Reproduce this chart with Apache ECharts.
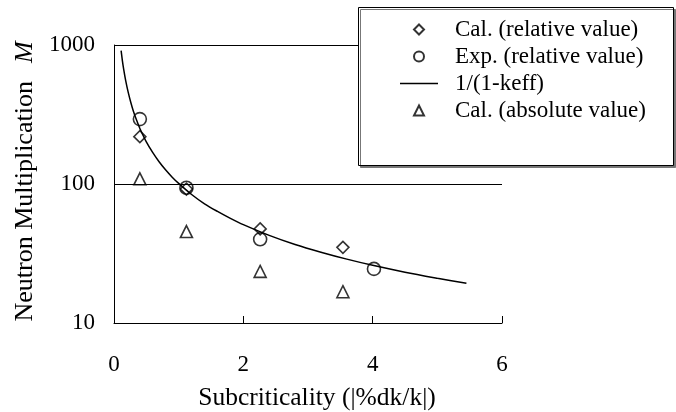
<!DOCTYPE html>
<html><head><meta charset="utf-8">
<script src="https://cdn.jsdelivr.net/npm/echarts@6/dist/echarts.min.js"></script>
<style>html,body{margin:0;padding:0;background:#fff}#c{width:676px;height:412px}</style>
</head><body><div id="c"></div>
<script>
var xTicks = [0, 2, 4, 6];
var yTicks = [10, 100, 1000];
var calRelX = [0.40, 1.12, 2.26, 3.54];
var calRelY = [219, 92, 47.5, 35];
var expRelX = [0.40, 1.12, 2.26, 4.02];
var expRelY = [293, 94, 40, 24.5];
var calAbsX = [0.40, 1.12, 2.26, 3.54];
var calAbsY = [109, 45.5, 23.5, 16.8];
var curveX = [0.11, 0.13, 0.15, 0.18, 0.22, 0.26, 0.3, 0.35, 0.4, 0.5, 0.6, 0.7, 0.8, 0.9, 1.0, 1.2, 1.4, 1.6, 1.8, 2.0, 2.4, 2.8, 3.2, 3.6, 4.0, 4.5, 5.0, 5.45];
var curveY = [910, 770, 668, 557, 456, 386, 334, 287, 251, 201, 168, 144, 126, 112, 101, 84, 72, 63.5, 56.6, 51, 42.7, 36.7, 32.3, 28.8, 26, 23.2, 21, 19.3];
var names = ['Cal. (relative value)', 'Exp. (relative value)', '1/(1-keff)', 'Cal. (absolute value)'];

function pairs(xs, ys) { return xs.map(function (x, i) { return [x, ys[i]]; }); }
var FONT = 'Liberation Serif';
var hollow = { color: 'rgba(0,0,0,0)', borderColor: '#000', borderWidth: 1.6 };
var legendHollow = { color: 'rgba(0,0,0,0)', borderColor: '#000', borderWidth: 2 };

var chart = echarts.init(document.getElementById('c'), null, { renderer: 'canvas' });
chart.setOption({
  animation: false,
  backgroundColor: '#fff',
  textStyle: { fontFamily: FONT, color: '#000' },
  grid: { left: 114, right: 174, top: 45, bottom: 89, containLabel: false, outerBoundsMode: 'none' },
  xAxis: {
    type: 'value', min: xTicks[0], max: xTicks[xTicks.length - 1], interval: 2,
    name: 'Subcriticality (|%dk/k|)', nameLocation: 'middle', nameGap: 62,
    nameTextStyle: { fontFamily: FONT, fontSize: 25.5, color: '#000', padding: [0, 0, 0, 18] },
    axisLine: { lineStyle: { color: '#000', width: 1 } },
    axisTick: { inside: true, length: 7, lineStyle: { color: '#000', width: 1 } },
    axisLabel: { fontFamily: FONT, fontSize: 23, color: '#000', margin: 30 },
    splitLine: { show: false }
  },
  yAxis: {
    type: 'log', logBase: 10, min: yTicks[0], max: yTicks[yTicks.length - 1],
    name: '{n|Neutron Multiplication}{s|}{m|M}', nameLocation: 'middle', nameGap: 76,
    nameTextStyle: {
      padding: [0, 0, 0, 5],
      rich: {
        n: { fontFamily: FONT, fontSize: 26, color: '#000' },
        s: { fontFamily: FONT, fontSize: 26, color: '#000', width: 18 },
        m: { fontFamily: FONT, fontSize: 26, color: '#000', fontStyle: 'italic' }
      }
    },
    axisLine: { show: true, lineStyle: { color: '#000', width: 1 } },
    axisTick: { show: false },
    axisLabel: { fontFamily: FONT, fontSize: 23, color: '#000', margin: 19, formatter: function (v) { return String(v); } },
    splitLine: { show: true, lineStyle: { color: '#000', width: 1 } },
    minorTick: { show: false }
  },
  graphic: [{
    type: 'rect', z: 3, left: 358, top: 7,
    shape: { width: 315, height: 158 },
    style: { fill: '#fff', stroke: '#000', lineWidth: 1, shadowColor: '#777', shadowOffsetX: 2, shadowOffsetY: 2, shadowBlur: 0 }
  }],
  legend: {
    z: 5, orient: 'vertical', left: 400, top: 18, padding: 0, itemGap: 4,
    itemWidth: 38, itemHeight: 10, symbolKeepAspect: true,
    data: [
      { name: names[0], icon: 'path://M5,0L10,5L5,10L0,5Z', itemStyle: legendHollow },
      { name: names[1], icon: 'path://M5,0A5,5,0,1,1,5,10A5,5,0,1,1,5,0Z', itemStyle: legendHollow },
      { name: names[2], icon: 'path://M0,0H38V1.6H0Z', itemStyle: { color: '#000', borderWidth: 0 } },
      { name: names[3], icon: 'path://M5,0L10,10L0,10Z', itemStyle: legendHollow }
    ],
    textStyle: { fontFamily: FONT, fontSize: 23, color: '#000', lineHeight: 23, padding: [0, 0, 0, 12] }
  },
  series: [
    { name: names[0], type: 'scatter', symbol: 'diamond', symbolSize: 12, itemStyle: hollow, data: pairs(calRelX, calRelY), z: 4 },
    { name: names[1], type: 'scatter', symbol: 'circle', symbolSize: 13, itemStyle: hollow, data: pairs(expRelX, expRelY), z: 4 },
    { name: names[2], type: 'line', symbol: 'none', smooth: 0.3, lineStyle: { color: '#000', width: 1.5 }, itemStyle: { color: '#000' }, data: pairs(curveX, curveY), z: 3 },
    { name: names[3], type: 'scatter', symbol: 'triangle', symbolSize: 12, itemStyle: hollow, data: pairs(calAbsX, calAbsY), z: 4 }
  ]
});
</script></body></html>
